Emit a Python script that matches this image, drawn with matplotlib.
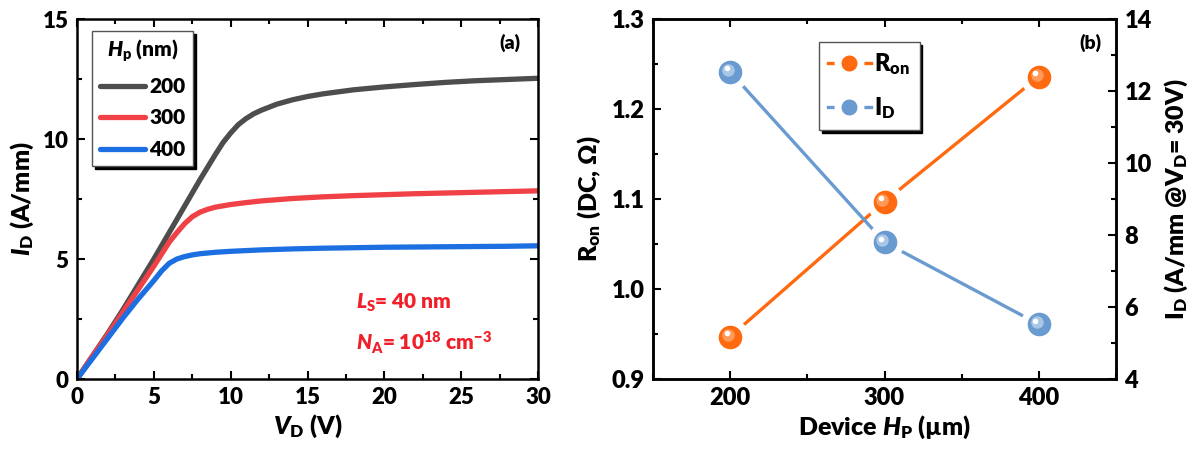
import matplotlib
matplotlib.use("Agg")
import matplotlib.pyplot as plt
import numpy as np
from matplotlib.ticker import MultipleLocator
from matplotlib.transforms import offset_copy

plt.rcParams["font.family"] = ["Lato", "DejaVu Sans"]
plt.rcParams["font.weight"] = "heavy"
plt.rcParams["axes.labelweight"] = "heavy"
plt.rcParams["mathtext.fontset"] = "custom"
plt.rcParams["mathtext.rm"] = "Lato:heavy"
plt.rcParams["mathtext.it"] = "Lato:italic:heavy"
plt.rcParams["mathtext.bf"] = "Lato:heavy"

# ---- panel (a): output curves ----
v_200 = [0, 1, 2, 3, 4, 5, 6, 7, 8, 9, 9.5, 10, 10.5, 11, 11.5, 12, 13, 14, 15, 16, 18, 20, 22, 24, 26, 28, 30]
i_200 = [0, 0.95, 1.9, 2.9, 3.95, 5.0, 6.1, 7.2, 8.3, 9.35, 9.85, 10.25, 10.6, 10.85, 11.05, 11.2, 11.45,
         11.63, 11.77, 11.88, 12.05, 12.17, 12.27, 12.36, 12.43, 12.48, 12.53]
v_300 = [0, 1, 2, 3, 4, 5, 6, 6.5, 7, 7.5, 8, 8.5, 9, 10, 11, 12, 14, 16, 18, 20, 22, 24, 26, 28, 30]
i_300 = [0, 0.95, 1.85, 2.8, 3.75, 4.7, 5.7, 6.1, 6.47, 6.76, 6.95, 7.07, 7.16, 7.27, 7.35, 7.42, 7.52,
         7.59, 7.64, 7.68, 7.72, 7.75, 7.78, 7.81, 7.84]
v_400 = [0, 1, 2, 3, 4, 5, 5.5, 6, 6.5, 7, 7.5, 8, 9, 10, 12, 14, 16, 18, 20, 22, 24, 26, 28, 30]
i_400 = [0, 0.85, 1.7, 2.55, 3.35, 4.1, 4.5, 4.82, 5.0, 5.1, 5.17, 5.22, 5.28, 5.32, 5.38, 5.42, 5.45,
         5.47, 5.49, 5.5, 5.51, 5.52, 5.53, 5.55]

# ---- panel (b): vs Hp ----
hp = [200, 300, 400]
r_on = [0.947, 1.097, 1.236]
i_d = [12.53, 7.8, 5.52]

GRAY = "#4d4d4d"
RED = "#ef4146"
BLUE = "#1c6fe0"
ORANGE = "#ff6a10"
LBLUE = "#6a9bd0"
TXT_RED = "#f0202a"

fig = plt.figure(figsize=(11.99, 4.53), dpi=100)
ax1 = fig.add_axes([77 / 1199, 1 - 379 / 453, 461 / 1199, 360 / 453])
ax2 = fig.add_axes([653 / 1199, 1 - 379 / 453, 463 / 1199, 360 / 453])


def style_ticks(ax, size):
    ax.tick_params(which="both", direction="in", top=True, right=True, width=1.5, labelsize=size, pad=6)
    ax.tick_params(which="major", length=6)
    ax.tick_params(which="minor", length=3.5)
    for sp in ax.spines.values():
        sp.set_linewidth(1.8)


ax1.plot(v_200, i_200, color=GRAY, lw=3.8, label="200", solid_capstyle="round")
ax1.plot(v_300, i_300, color=RED, lw=3.8, label="300", solid_capstyle="round")
ax1.plot(v_400, i_400, color=BLUE, lw=3.8, label="400", solid_capstyle="round")
ax1.set_xlim(0, 30)
ax1.set_ylim(0, 15)
ax1.xaxis.set_major_locator(MultipleLocator(5))
ax1.xaxis.set_minor_locator(MultipleLocator(2.5))
ax1.yaxis.set_major_locator(MultipleLocator(5))
ax1.yaxis.set_minor_locator(MultipleLocator(2.5))
style_ticks(ax1, 16)
ax1.set_xlabel(r"$\mathit{V}_\mathrm{D}$ (V)", fontsize=18, labelpad=3)
ax1.set_ylabel(r"$\mathit{I}_\mathrm{D}$ (A/mm)", fontsize=18, labelpad=5)
leg1 = ax1.legend(loc="upper left", bbox_to_anchor=(0.033, 0.967), borderaxespad=0,
                  title=r"$\mathit{H}_\mathrm{p}$ (nm)",
                  fontsize=15, title_fontsize=15, frameon=True, fancybox=False, edgecolor="#555555",
                  handlelength=2.2, handletextpad=0.2, borderpad=0.35, labelspacing=0.6,
                  shadow={"color": "black", "alpha": 1.0})
leg1.get_frame().set_linewidth(1.0)
ax1.text(0.94, 0.935, "(a)", transform=ax1.transAxes, ha="center", va="center", fontsize=14)
ax1.text(0.605, 0.212, r"$\mathit{L}_\mathrm{S}$= 40 nm", transform=ax1.transAxes, color=TXT_RED,
         fontsize=15, va="center")
ax1.text(0.605, 0.10, r"$\mathit{N}_\mathrm{A}$= 10$^{18}$ cm$^{-3}$", transform=ax1.transAxes, color=TXT_RED,
         fontsize=15, va="center")

# panel (b)
ax3 = ax2.twinx()
mid = offset_copy(ax2.transData, fig=fig, x=-1.5, y=1.5, units="points")
mid3 = offset_copy(ax3.transData, fig=fig, x=-1.5, y=1.5, units="points")
hi = offset_copy(ax2.transData, fig=fig, x=-2.5, y=2.5, units="points")
hi3 = offset_copy(ax3.transData, fig=fig, x=-2.5, y=2.5, units="points")

l_r, = ax2.plot(hp, r_on, color=ORANGE, lw=2.4, marker="o", ms=22, mfc=ORANGE, mec="white", mew=5)
ax2.plot(hp, r_on, ls="none", marker="o", ms=9, mfc="#ff9a5a", mec="none", transform=mid)
ax2.plot(hp, r_on, ls="none", marker="o", ms=4, mfc="white", mec="none", transform=hi)
l_i, = ax3.plot(hp, i_d, color=LBLUE, lw=2.4, marker="o", ms=22, mfc=LBLUE, mec="white", mew=5)
ax3.plot(hp, i_d, ls="none", marker="o", ms=9, mfc="#a8c6e6", mec="none", transform=mid3)
ax3.plot(hp, i_d, ls="none", marker="o", ms=4, mfc="white", mec="none", transform=hi3)

ax2.set_xlim(150, 450)
ax2.set_ylim(0.9, 1.3)
ax3.set_ylim(4, 14)
ax2.set_xticks(hp)
ax2.xaxis.set_minor_locator(MultipleLocator(50))
ax2.yaxis.set_major_locator(MultipleLocator(0.1))
ax2.yaxis.set_minor_locator(MultipleLocator(0.05))
ax3.yaxis.set_major_locator(MultipleLocator(2))
ax3.yaxis.set_minor_locator(MultipleLocator(1))
style_ticks(ax2, 17)
ax2.tick_params(right=False, which="both")
ax3.tick_params(which="both", direction="in", width=1.5, labelsize=17, pad=6)
ax3.tick_params(which="major", length=6)
ax3.tick_params(which="minor", length=3.5)
for sp in ax3.spines.values():
    sp.set_linewidth(1.8)
ax2.set_xlabel(r"Device $\mathit{H}_\mathrm{P}$ (µm)", fontsize=18, labelpad=3)
ax2.set_ylabel(r"R$_\mathrm{on}$ (DC, Ω)", fontsize=18, labelpad=6)
ax3.set_ylabel(r"I$_\mathrm{D}$ (A/mm @V$_\mathrm{D}$= 30V)", fontsize=18, labelpad=8)
ax2.text(0.945, 0.935, "(b)", transform=ax2.transAxes, ha="center", va="center", fontsize=14)

leg2 = ax2.legend([l_r, l_i], [r"R$_\mathrm{on}$", r"I$_\mathrm{D}$"], loc="upper left",
                  bbox_to_anchor=(0.358, 0.936), borderaxespad=0, fontsize=17, frameon=True,
                  fancybox=False, edgecolor="#555555", handlelength=1.8, handletextpad=0.15,
                  borderpad=0.4, labelspacing=0.75, markerscale=0.75,
                  shadow={"color": "black", "alpha": 1.0})
leg2.get_frame().set_linewidth(1.0)

fig.savefig("out.png", dpi=100)
